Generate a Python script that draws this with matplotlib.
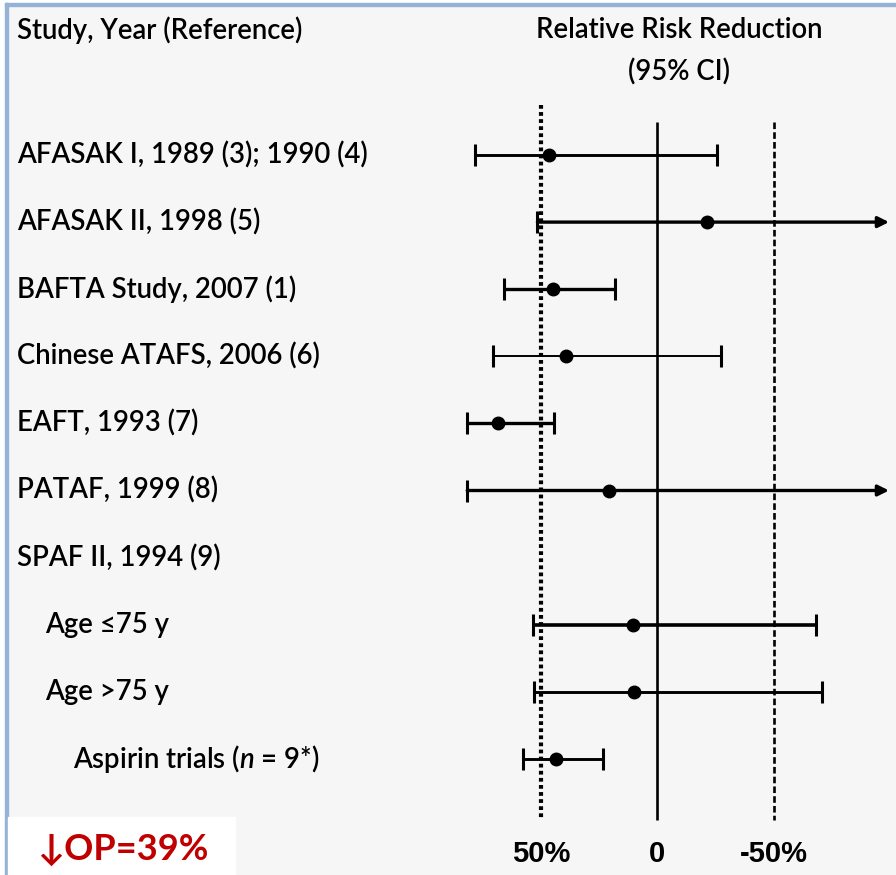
import numpy as np
import matplotlib
matplotlib.use("Agg")
import matplotlib.pyplot as plt
from matplotlib.patches import Rectangle
from matplotlib.transforms import blended_transform_factory

# ---- data -------------------------------------------------------------
studies = [
    "AFASAK I, 1989 (3); 1990 (4)",
    "AFASAK II, 1998 (5)",
    "BAFTA Study, 2007 (1)",
    "Chinese ATAFS, 2006 (6)",
    "EAFT, 1993 (7)",
    "PATAF, 1999 (8)",
    "SPAF II, 1994 (9)",
    "Age \u226475 y",
    "Age >75 y",
    "Aspirin trials ($n$ = 9*)",
]
indent = [0, 0, 0, 0, 0, 0, 0, 1, 1, 2]
# relative risk reduction (%) with 95% CI; None = no estimate / open-ended
rrr      = [46.5, -21.4, 44.7, 39.4, 68.4, 21.0, None, 10.5, 9.9, 43.5]
ci_upper = [78.4, 51.6, 65.9, 70.6, 81.8, 81.8, None, 53.6, 53.0, 57.6]
ci_lower = [-25.7, None, 18.1, -27.4, 44.4, None, None, -68.1, -71.0, 23.6]
tick_vals = [50, 0, -50]
tick_labels = ["50%", "0", "-50%"]
pooled_note = "\u2193OP=39%"

# ---- figure -------------------------------------------------------------
W, H, DPI = 896, 875, 100
BG = "#f6f6f6"
fig = plt.figure(figsize=(W / DPI, H / DPI), dpi=DPI, facecolor=BG)

plt.rcParams["mathtext.fontset"] = "custom"
plt.rcParams["mathtext.it"] = "Lato:italic:semibold"
plt.rcParams["mathtext.rm"] = "Lato:semibold"

def fx(px):
    return px / W

def fy(py):
    return 1 - py / H

# frame: white margin + light-blue border lines
fig.add_artist(Rectangle((0, 0), fx(5), 1, transform=fig.transFigure,
                         color="white", zorder=0))
fig.add_artist(Rectangle((0, fy(3)), 1, 3 / H, transform=fig.transFigure,
                         color="white", zorder=0))
fig.add_artist(Rectangle((fx(5), 0), fx(3), fy(3), transform=fig.transFigure,
                         color="#95b3d7", zorder=1))
fig.add_artist(Rectangle((fx(5), fy(6)), 1, 3 / H, transform=fig.transFigure,
                         color="#95b3d7", zorder=1))

# plot area
ax_left, ax_right = 440, 889
ax_top, ax_bot = 100, 830
ax = fig.add_axes([fx(ax_left), fy(ax_bot), fx(ax_right - ax_left),
                   (ax_bot - ax_top) / H])
ax.set_facecolor("none")
ax.set_xlim(93.5, -99.6)
row_h = 67.1
ax.set_ylim((ax_bot - 155) / row_h, (ax_top - 155) / row_h)
for s in ax.spines.values():
    s.set_visible(False)
ax.set_yticks([])

# reference lines
y_lo = (820 - 155) / row_h
ax.vlines(0, (122 - 155) / row_h, y_lo, color="black", lw=1.9, zorder=2)
ax.vlines(tick_vals[0], (105 - 155) / row_h, y_lo, color="black", lw=3.0,
          linestyles=[(0, (0.9, 0.8))], zorder=2)
ax.vlines(tick_vals[2], (122 - 155) / row_h, y_lo, color="black", lw=1.9,
          linestyles=[(0, (2.5, 1.2))], zorder=2)

line_w = [2.1, 2.4, 2.4, 1.4, 2.4, 2.4, 0, 2.6, 2.1, 2.1]
x_end = ax.get_xlim()[1]
for i, (est, up, lo) in enumerate(zip(rrr, ci_upper, ci_lower)):
    if est is None:
        continue
    lw = line_w[i]
    ax.plot([up], [i], marker="|", ms=16, mew=2.2, color="black", zorder=3)
    if lo is None:
        ax.annotate("", xy=(x_end, i), xytext=(up, i),
                    arrowprops=dict(arrowstyle="-|>", color="black", lw=lw,
                                    mutation_scale=16, shrinkA=0, shrinkB=0),
                    zorder=3)
    else:
        ax.plot([up, lo], [i, i], color="black", lw=lw, solid_capstyle="butt",
                zorder=3)
        ax.plot([lo], [i], marker="|", ms=16, mew=2.2, color="black", zorder=3)
    ax.plot([est], [i], marker="o", ms=9, color="black", zorder=4)

# axis tick labels
ax.set_xticks(tick_vals)
ax.set_xticklabels(tick_labels, fontfamily="Liberation Sans",
                   fontweight="bold", fontsize=21)
ax.tick_params(axis="x", length=0, pad=7)

# study labels
lab_font = dict(family=["Lato", "DejaVu Sans"], fontsize=19.8,
                fontweight="semibold", color="black")
trans = blended_transform_factory(fig.transFigure, ax.transData)
indent_px = [17, 45, 73]
for i, (name, lev) in enumerate(zip(studies, indent)):
    fig.text(fx(indent_px[lev]), i, name, transform=trans, va="center",
             ha="left", **lab_font)

# headers
fig.text(fx(17), fy(30), "Study, Year (Reference)", va="center", ha="left",
         **lab_font)
fig.text(fx(679), fy(30), "Relative Risk Reduction", va="center",
         ha="center", **lab_font)
fig.text(fx(679), fy(72), "(95% CI)", va="center", ha="center", **lab_font)

# pooled estimate note
fig.add_artist(Rectangle((fx(8), 0), fx(227), 58 / H, transform=fig.transFigure,
                         color="white", zorder=1))
fig.text(fx(37), fy(850), pooled_note, va="center", ha="left",
         family=["Lato", "DejaVu Sans"], fontweight="bold", fontsize=26,
         color="#c00000", zorder=2)

fig.savefig("out.png", dpi=DPI, facecolor=BG)
